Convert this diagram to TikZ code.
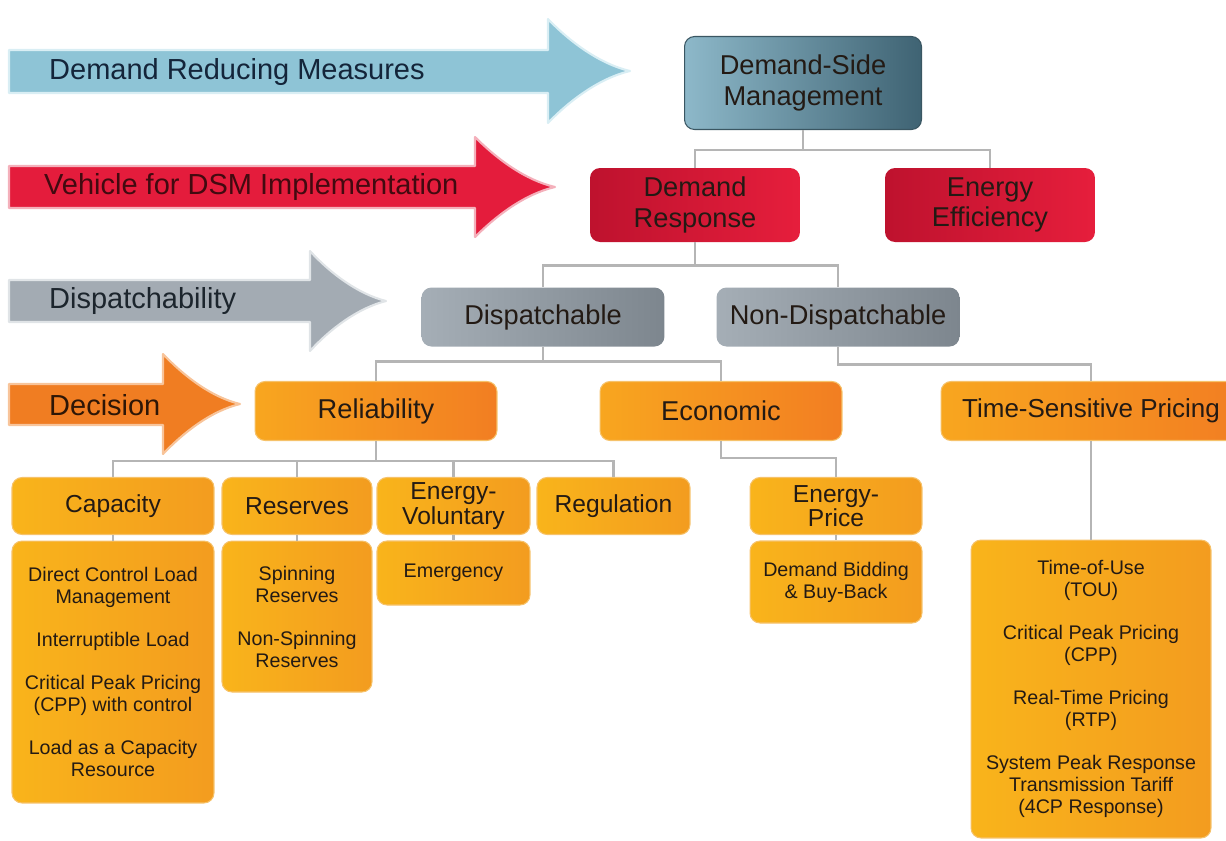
\documentclass[tikz,border=0pt]{standalone}
\usepackage{fontspec}
\setmainfont{Liberation Sans}

\definecolor{arrBlue}{HTML}{8EC4D6}
\definecolor{arrBlueB}{HTML}{D9EEF4}
\definecolor{arrRed}{HTML}{E41C3C}
\definecolor{arrRedB}{HTML}{F4B0BB}
\definecolor{arrGray}{HTML}{A3ABB3}
\definecolor{arrGrayB}{HTML}{E0E4E7}
\definecolor{arrOrange}{HTML}{F07D22}
\definecolor{arrOrangeB}{HTML}{F8C49A}
\definecolor{txtBlue}{HTML}{14253A}
\definecolor{txtRed}{HTML}{420A10}
\definecolor{txtGray}{HTML}{1C252D}
\definecolor{txtOrange}{HTML}{2E1606}
\definecolor{boxText}{HTML}{231A14}
\definecolor{dsmL}{HTML}{8DB8C9}
\definecolor{dsmR}{HTML}{3F6373}
\definecolor{dsmB}{HTML}{3A5662}
\definecolor{redL}{HTML}{BE122E}
\definecolor{redR}{HTML}{E61E3C}
\definecolor{grayL}{HTML}{A5AEB6}
\definecolor{grayM}{HTML}{B3BAC0}
\definecolor{grayR}{HTML}{7D868E}
\definecolor{orL}{HTML}{F8A61F}
\definecolor{orR}{HTML}{F27E22}
\definecolor{ylL}{HTML}{F9B41B}
\definecolor{ylR}{HTML}{F39C1F}
\definecolor{orB}{HTML}{F6C26A}
\definecolor{connC}{HTML}{B5B5B5}

\begin{document}
\begin{tikzpicture}[x=0.02cm, y=-0.02cm,
  banner/.style={line width=1.2pt, line join=round},
  lbl/.style={anchor=west, font=\fontsize{16.5}{18}\selectfont},
  box/.style={rounded corners=0.2cm, align=center, inner sep=2pt, text=boxText},
  dsmbox/.style={box, left color=dsmL, right color=dsmR, draw=dsmB, line width=0.6pt,
    font=\fontsize{15.5}{18}\selectfont},
  redbox/.style={box, left color=redL, right color=redR, font=\fontsize{15.5}{17.5}\selectfont},
  graybox/.style={box, left color=grayL, middle color=grayM, right color=grayR,
    font=\fontsize{15.5}{18}\selectfont},
  orbox/.style={box, left color=orL, right color=orR, draw=orB, line width=0.6pt,
    font=\fontsize{15.5}{18}\selectfont},
  ylbox/.style={box, left color=ylL, right color=ylR, draw=orB, line width=0.6pt,
    font=\fontsize{14}{13}\selectfont},
  listbox/.style={ylbox, font=\fontsize{11.2}{12.5}\selectfont},
  conn/.style={draw=connC, line width=1.6pt}
]
\useasboundingbox (0,0) rectangle (1226,840);

% Banner arrows
\draw[banner, fill=arrBlue, draw=arrBlueB] (9,50) -- (548,50) -- (548,19)
  .. controls (570,42) and (600,64) .. (630,71)
  .. controls (600,78) and (570,100) .. (548,123) -- (548,93) -- (9,93) -- cycle;
\draw[banner, fill=arrRed, draw=arrRedB] (9,166) -- (475,166) -- (475,137)
  .. controls (497,159) and (525,180) .. (555,187)
  .. controls (525,194) and (497,215) .. (475,237) -- (475,208) -- (9,208) -- cycle;
\draw[banner, fill=arrGray, draw=arrGrayB] (9,280) -- (310,280) -- (310,251)
  .. controls (330,273) and (358,294) .. (386,301)
  .. controls (358,308) and (330,329) .. (310,351) -- (310,322) -- (9,322) -- cycle;
\draw[banner, fill=arrOrange, draw=arrOrangeB] (9,384) -- (163,384) -- (163,354)
  .. controls (184,376) and (211,397) .. (240,404)
  .. controls (211,411) and (184,432) .. (163,454) -- (163,425) -- (9,425) -- cycle;

\node[lbl, text=txtBlue] (tReduce) at (43,72) {Demand Reducing Measures};
\node[lbl, text=txtRed] (tVehicle) at (38,187) {Vehicle for DSM Implementation};
\node[lbl, text=txtGray] (tDispatch) at (43,301) {Dispatchability};
\node[lbl, text=txtOrange] (tDecision) at (43,405) {Decision};

% Top levels
\node[dsmbox, minimum width=4.74cm, minimum height=1.86cm] (dsm) at (803,83) {Demand-Side\\Management};
\node[redbox, minimum width=4.2cm, minimum height=1.48cm] (dr) at (695,205) {Demand\\Response};
\node[redbox, minimum width=4.2cm, minimum height=1.48cm] (ee) at (990,205) {Energy\\Efficiency};
\node[graybox, minimum width=4.86cm, minimum height=1.18cm] (disp) at (543,317) {Dispatchable};
\node[graybox, minimum width=4.86cm, minimum height=1.18cm] (ndisp) at (838,317) {Non-Dispatchable};
\node[orbox, minimum width=4.84cm, minimum height=1.18cm] (rel) at (376,411) {Reliability};
\node[orbox, minimum width=4.84cm, minimum height=1.18cm] (eco) at (721,411) {Economic};
\node[orbox, minimum width=6cm, minimum height=1.18cm, font=\fontsize{14.8}{18}\selectfont] (tsp) at (1091,411) {Time-Sensitive Pricing};

% Programme types
\node[ylbox, minimum width=4.04cm, minimum height=1.14cm] (cap) at (113,506) {Capacity};
\node[ylbox, minimum width=3cm, minimum height=1.14cm] (res) at (297,506) {Reserves};
\node[ylbox, minimum width=3.06cm, minimum height=1.14cm] (ev) at (453.5,506) {Energy-\\Voluntary};
\node[ylbox, minimum width=3.06cm, minimum height=1.14cm] (reg) at (613.5,506) {Regulation};
\node[ylbox, minimum width=3.44cm, minimum height=1.14cm] (ep) at (836,506) {Energy-\\Price};

% Programme lists
\node[listbox, minimum width=4.04cm, minimum height=5.24cm] (capL) at (113,672)
  {Direct Control Load\\Management\\[12pt]Interruptible Load\\[12pt]Critical Peak Pricing\\(CPP) with control\\[12pt]Load as a Capacity\\Resource};
\node[listbox, minimum width=3cm, minimum height=3.02cm] (resL) at (297,616.5)
  {Spinning\\Reserves\\[12pt]Non-Spinning\\Reserves};
\node[listbox, minimum width=3.06cm, minimum height=1.28cm] (evL) at (453.5,573) {Emergency};
\node[listbox, minimum width=3.44cm, minimum height=1.64cm] (epL) at (836,582)
  {Demand Bidding\\\& Buy-Back};
\node[listbox, minimum width=4.8cm, minimum height=5.96cm] (tspL) at (1091,689)
  {Time-of-Use\\(TOU)\\[12pt]Critical Peak Pricing\\(CPP)\\[12pt]Real-Time Pricing\\(RTP)\\[12pt]System Peak Response\\Transmission Tariff\\(4CP Response)};

% Connectors
\draw[conn] (dsm.south) -- ++(0,20) -| (dr.north);
\draw[conn] (dsm.south) -- ++(0,20) -| (ee.north);
\draw[conn] (dr.south) -- ++(0,23) -| (disp.north);
\draw[conn] (dr.south) -- ++(0,23) -| (ndisp.north);
\draw[conn] (disp.south) -- ++(0,15) -| (rel.north);
\draw[conn] (disp.south) -- ++(0,15) -| (eco.north);
\draw[conn] (ndisp.south) -- ++(0,18) -| (tsp.north);
\draw[conn] (rel.south) -- ++(0,20) -| (cap.north);
\draw[conn] (rel.south) -- ++(0,20) -| (res.north);
\draw[conn] (rel.south) -- ++(0,20) -| (ev.north);
\draw[conn] (rel.south) -- ++(0,20) -| (reg.north);
\draw[conn] (eco.south) -- ++(0,17) -| (ep.north);
\draw[conn] (cap) -- (capL);
\draw[conn] (res) -- (resL);
\draw[conn] (ev) -- (evL);
\draw[conn] (ep) -- (epL);
\draw[conn] (tsp) -- (tspL);
\end{tikzpicture}
\end{document}
